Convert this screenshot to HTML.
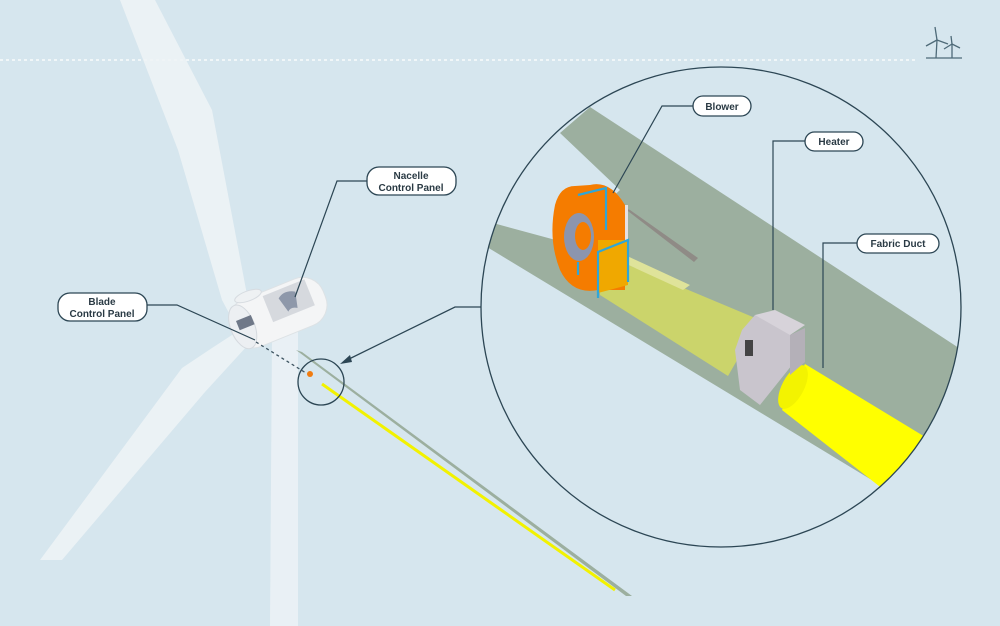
<!DOCTYPE html>
<html><head><meta charset="utf-8"><style>
html,body{margin:0;padding:0;background:#d6e6ee;}
svg{display:block}
text{font-family:"Liberation Sans",sans-serif;font-weight:bold;fill:#2a3a44;}
</style></head><body>
<svg width="1000" height="626" viewBox="0 0 1000 626" xmlns="http://www.w3.org/2000/svg">
<rect width="1000" height="626" fill="#d6e6ee"/>
<line x1="0" y1="60" x2="918" y2="60" stroke="#ffffff" stroke-width="1.2" stroke-dasharray="3,3"/>
<g stroke="#4e6a78" stroke-width="1.3" fill="none">
<line x1="926" y1="58" x2="962" y2="58"/>
<line x1="937" y1="40" x2="936" y2="58"/><line x1="937" y1="40" x2="935" y2="27"/><line x1="937" y1="40" x2="926" y2="46"/><line x1="937" y1="40" x2="948" y2="44"/>
<line x1="952" y1="44" x2="952" y2="58"/><line x1="952" y1="44" x2="951" y2="36"/><line x1="952" y1="44" x2="944" y2="49"/><line x1="952" y1="44" x2="960" y2="48"/>
</g>
<polygon points="120,0,155,0,212,110,248,300,238,330,222,300,178,150" fill="#eef3f6" opacity="0.85"/>
<polygon points="232,335,212,348,182,368,40,560,62,560,205,392,248,345" fill="#eef3f6" opacity="0.85"/>
<polygon points="272,335,298,325,298,626,270,626" fill="#eef3f6" opacity="0.8"/>
<polygon points="296,350,302,352,632,596,626,596" fill="#9caf9f"/>
<line x1="322" y1="384" x2="615" y2="590" stroke="#f2f200" stroke-width="3"/>
<g transform="rotate(-22 277 313)">
<rect x="228" y="288" width="100" height="50" rx="22" fill="#f4f5f6" stroke="#dde2e5"/>
<rect x="270" y="292" width="45" height="28" fill="#c9cdd4" opacity="0.7"/>
<path d="M284 300 q8 -6 18 0 l-4 16 q-6-4-10 0z" fill="#8e98aa"/>
<ellipse cx="240" cy="313" rx="12" ry="23" fill="#eceff2" stroke="#d5dadf"/>
<rect x="236" y="305" width="16" height="10" fill="#6f7888"/>
</g>
<ellipse cx="248" cy="296" rx="14" ry="5" fill="#eef1f3" stroke="#d6dbe0" transform="rotate(-20 248 296)"/>
<line x1="256" y1="342" x2="306" y2="373" stroke="#3e5461" stroke-width="1.3" stroke-dasharray="3,3"/>
<circle cx="310" cy="374" r="3" fill="#f07c10"/>
<circle cx="321" cy="382" r="23" fill="none" stroke="#2c4654" stroke-width="1.3"/>
<polyline points="481,307 455,307 345,361" fill="none" stroke="#2c4654" stroke-width="1.3"/>
<polygon points="340,364 350,355 352,362" fill="#2c4654"/>
<defs><clipPath id="c"><circle cx="721" cy="307" r="240"/></clipPath></defs>
<g clip-path="url(#c)">
<polygon points="590,107,985,365,985,530,880,485,487,247,493,223,563,242,620,190,560,133" fill="#9caf9f"/>
<polygon points="600,253,760,320,728,376,600,295" fill="#cbd46b"/>
<polygon points="625,255,690,285,683,290,622,262" fill="#dfe39a"/>
<polygon points="805,364,935,443,893,497,782,410" fill="#ffff00"/>
<ellipse cx="793" cy="387" rx="11" ry="24" fill="#f3f300" transform="rotate(28 793 387)"/>
<polygon points="742,330,755,315,790,322,792,365,760,405,740,390,735,350" fill="#c9c5cd"/>
<polygon points="755,315,775,310,805,325,790,335" fill="#d7d3da"/>
<polygon points="790,335,805,328,805,362,790,375" fill="#b4b0b8"/>
<rect x="745" y="340" width="8" height="16" fill="#444"/>
<polygon points="624,208,630,210,698,258,694,262" fill="#8f8b86"/>
<polygon points="622,205,628,205,628,245,622,245" fill="#e5e0e2"/>
<path d="M575 186 Q560 186 555 205 Q548 240 560 270 Q572 295 598 290 L625 290 L625 205 Q610 180 590 185 Z" fill="#f57c00"/>
<ellipse cx="579" cy="237" rx="15" ry="24" fill="#8c95ad"/>
<ellipse cx="583" cy="236" rx="8" ry="14" fill="#f57c00"/>
<polygon points="598,240,628,240,628,285,598,293" fill="#f0a800"/>
<g stroke="#2fa6d8" stroke-width="2.2" fill="none">
<polyline points="578,195 606,188 606,230"/>
<polyline points="598,298 598,252 628,240 628,282"/>
<line x1="578" y1="262" x2="578" y2="275"/>
</g>
</g>
<circle cx="721" cy="307" r="240" fill="none" stroke="#2c4654" stroke-width="1.3"/>
<g fill="none" stroke="#2c4654" stroke-width="1.2">
<polyline points="693,106 662,106 613,193"/>
<polyline points="805,141 773,141 773,310"/>
<polyline points="857,243 823,243 823,368"/>
<polyline points="367,181 337,181 295,297"/>
<polyline points="147,305 177,305 255,340"/>
</g>
<g fill="#ffffff" stroke="#2c4654" stroke-width="1.3">
<rect x="693" y="96" width="58" height="20" rx="10"/>
<rect x="805" y="132" width="58" height="19" rx="9.5"/>
<rect x="857" y="234" width="82" height="19" rx="9.5"/>
<rect x="367" y="167" width="89" height="28" rx="12"/>
<rect x="58" y="293" width="89" height="28" rx="12"/>
</g>
<g font-size="10" text-anchor="middle">
<text x="722" y="110">Blower</text>
<text x="834" y="145">Heater</text>
<text x="898" y="247">Fabric Duct</text>
<text x="411" y="179">Nacelle</text>
<text x="411" y="191">Control Panel</text>
<text x="102" y="305">Blade</text>
<text x="102" y="317">Control Panel</text>
</g>
</svg>
</body></html>
